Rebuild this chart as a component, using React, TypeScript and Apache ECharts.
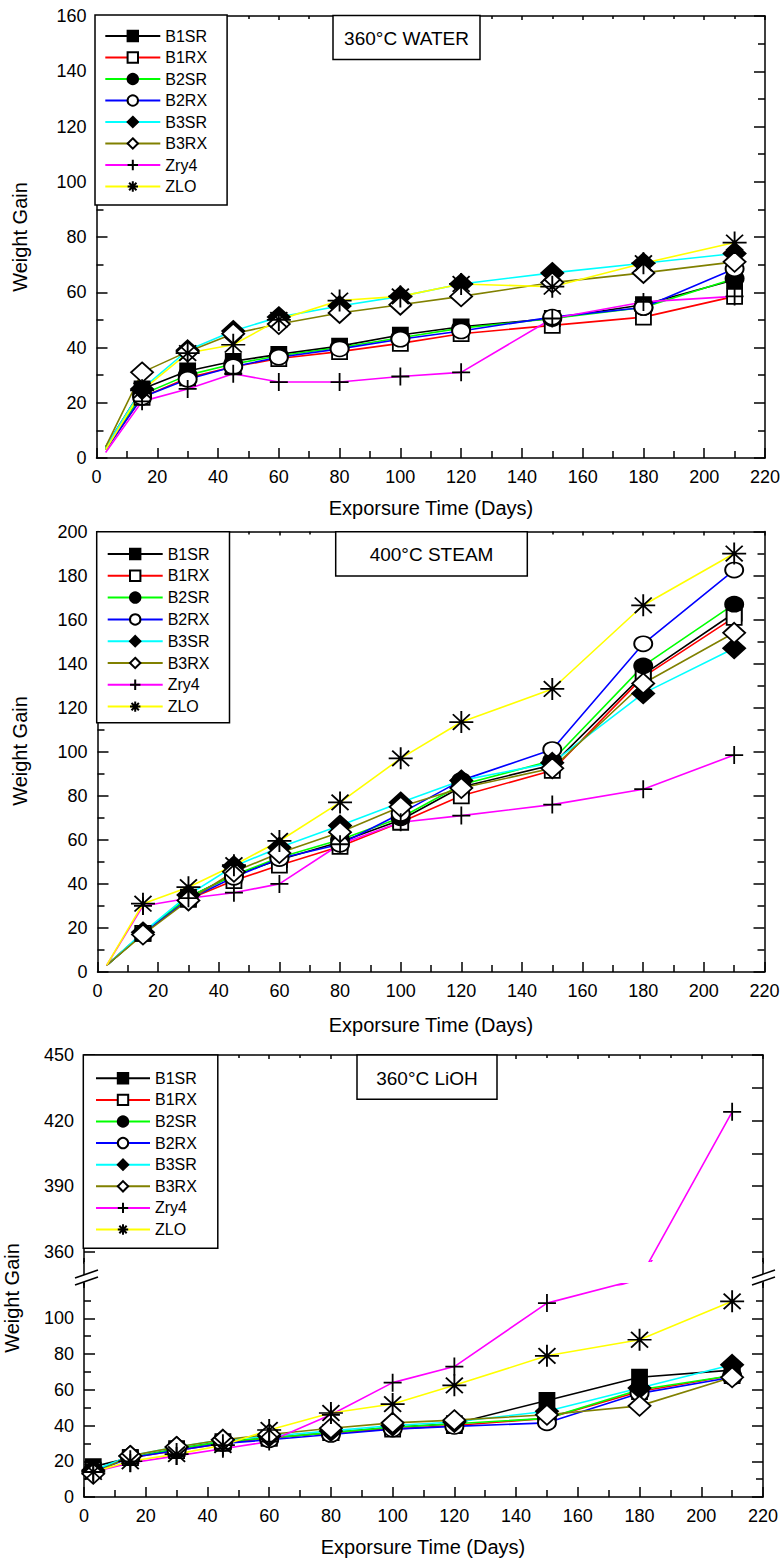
import { useEffect, useRef } from 'react';
import * as echarts from 'echarts';

// ---------- data ----------
const days = [3, 15, 30, 45, 60, 80, 100, 120, 150, 180, 210];
const seriesNames = ['B1SR', 'B1RX', 'B2SR', 'B2RX', 'B3SR', 'B3RX', 'Zry4', 'ZLO'];

// 360°C water
const waterB1SR = [4, 25, 31.5, 35, 37.5, 40.5, 44.5, 47.5, 50.5, 55.5, 64.5];
const waterB1RX = [3, 22, 29, 33, 36, 38.5, 41.5, 45, 48, 51, 58.5];
const waterB2SR = [3.5, 23, 30, 34, 37, 40, 43.5, 47, 50.5, 54.5, 65];
const waterB2RX = [3, 22, 28.5, 33, 36.5, 39.5, 43, 46, 51, 54.5, 68.5];
const waterB3SR = [4, 25, 39, 46, 51, 55, 58.5, 63, 67, 70.5, 74];
const waterB3RX = [4, 31, 38.5, 45, 48.5, 52.5, 55.5, 58.5, 63.5, 67, 71];
const waterZry4 = [2, 20.5, 25, 30.5, 27.5, 27.5, 29.5, 31, 50.5, 56.5, 58.5];
const waterZLO = [3, 24.5, 38, 41, 50, 57, 58.5, 63, 62, 70.5, 78];

// 400°C steam
const steamB1SR = [3, 17.5, 34, 44, 51, 59, 69, 84, 94, 135, 163];
const steamB1RX = [3, 17.5, 33, 41.5, 48.5, 57, 68, 80, 91.5, 134, 161];
const steamB2SR = [3, 17.5, 34, 44, 52, 60, 70, 85, 96, 139, 167];
const steamB2RX = [3, 17.5, 33, 43, 51.5, 58, 72, 87, 101, 149, 182.5];
const steamB3SR = [3, 18, 35, 48, 56.5, 66.5, 77, 87, 95, 126.5, 147];
const steamB3RX = [3, 17, 32.5, 45.5, 54, 63.5, 75, 83.5, 92.5, 131, 154];
const steamZry4 = [3, 30, 33.5, 36, 40, 58, 68, 71, 76, 83, 98.5];
const steamZLO = [3, 31, 38.5, 48.5, 59.5, 77, 97, 113.5, 128.5, 166.5, 190];

// 360°C LiOH
const liohB1SR = [17, 22, 27, 31, 33, 36, 39, 41, 54, 67, 71];
const liohB1RX = [15, 22, 26, 30, 33, 36, 38, 40, 44, 59, 68];
const liohB2SR = [15, 22, 27, 31, 33, 36, 39, 41, 44, 60, 68];
const liohB2RX = [14, 22, 26, 30, 32, 35, 38, 39.5, 41.5, 58, 67];
const liohB3SR = [15, 23, 28, 32, 34, 37, 40, 42, 48, 61, 74];
const liohB3RX = [13, 23, 28, 32, 35, 38.5, 41.5, 43, 46, 51, 67];
const liohZry4 = [14, 19, 23, 27, 31, 46, 64, 73, 108.5, 162, 424];
const liohZLO = [14, 20, 24, 29, 37.5, 47, 52, 62.5, 79, 88, 109.5];

// axis ticks / labels
const liohLowerLabels = [0, 20, 40, 60, 80, 100];
const liohLowerMinor = [10, 30, 50, 70, 90, 110];
const liohUpperLabels = [360, 390, 420, 450];
const liohUpperTicks = [360, 375, 390, 405, 420, 435, 450];
const liohBreakStart = 120;
const liohBreakEnd = 355;

// ---------- styling ----------
const FONT = '"Liberation Sans", Arial, Helvetica, sans-serif';
const lineColors = ['#000000', '#ff0000', '#00ff00', '#0000ff', '#00ffff', '#808000', '#ff00ff', '#ffff00'];
const PLUS = 'path://M10,0L10,20M0,10L20,10';
const STAR = 'path://M10,0L10,20M0,10L20,10M2.93,2.93L17.07,17.07M17.07,2.93L2.93,17.07';
const markerShapes = ['rect', 'rect', 'circle', 'circle', 'diamond', 'diamond', PLUS, STAR];
const markerFills = ['#000', '#fff', '#000', '#fff', '#000', '#fff', '#000', '#000'];
const markerSizes: any[] = [[15, 15], [15, 15], [18, 15], [18, 15], [22, 20], [22, 20], [18, 18], [24, 22]];
const tickLine = { color: '#000', width: 1.5 };

function buildSeries(values: number[][], xAxisIndex: number, yAxisIndex: number, hideFirst: boolean, only?: number[], hidden?: number[][]) {
  const out: any[] = [];
  values.forEach((vals, si) => {
    if (only && only.indexOf(si) < 0) return;
    out.push({
      type: 'line',
      name: seriesNames[si],
      xAxisIndex,
      yAxisIndex,
      data: days.map((d, i) => {
        const hide = (hideFirst && i === 0) || (hidden && hidden.some((h) => h[0] === si && h[1] === i));
        return hide ? { value: [d, vals[i]], symbol: 'none' } : [d, vals[i]];
      }),
      symbol: markerShapes[si],
      symbolSize: markerSizes[si],
      showAllSymbol: true,
      lineStyle: { color: lineColors[si], width: 1.6 },
      itemStyle: { color: markerFills[si], borderColor: '#000', borderWidth: 1.8 },
      emphasis: { disabled: true },
      z: 2,
    });
  });
  return out;
}

const axisBase: any = {
  type: 'value',
  axisLine: { show: true, onZero: false, lineStyle: { color: '#000', width: 1.5 } },
  splitLine: { show: false },
  axisLabel: { color: '#000', fontSize: 18, fontFamily: FONT, margin: 10 },
};

function bottomX(gridIndex: number) {
  return {
    ...axisBase, gridIndex, position: 'bottom', min: 0, max: 220, interval: 20,
    axisTick: { show: true, inside: true, length: 10, lineStyle: tickLine },
    minorTick: { show: true, splitNumber: 2, length: 7, lineStyle: tickLine },
  };
}
function topX(gridIndex: number) {
  return {
    ...axisBase, gridIndex, position: 'top', min: 0, max: 220, interval: 20,
    axisLabel: { show: false },
    axisTick: { show: true, inside: true, length: 4, lineStyle: tickLine },
    minorTick: { show: true, splitNumber: 2, length: 3, lineStyle: tickLine },
  };
}
function sideY(gridIndex: number, position: string, max: number, showLabel: boolean) {
  return {
    ...axisBase, gridIndex, position, min: 0, max, interval: 20,
    axisLabel: showLabel ? axisBase.axisLabel : { show: false },
    axisTick: { show: true, inside: true, length: 11, lineStyle: tickLine },
    minorTick: { show: true, splitNumber: 2, length: 7, lineStyle: tickLine },
  };
}
// gap is given in value units: 20 px on each of the two segments
function breakCfg(gapUnits: number) {
  return {
    breaks: [{ start: liohBreakStart, end: liohBreakEnd, gap: gapUnits }],
    breakArea: {
      show: true,
      itemStyle: { color: '#ffffff', borderColor: '#ffffff', borderWidth: 0, opacity: 1 },
      zigzagAmplitude: 0,
      expandOnClick: false,
    },
  };
}
const LOWER_GAP = 20 / 1.787;
const UPPER_GAP = 20 / 2.1848;
function liohY(gridIndex: number, position: string, min: number, max: number, gap: number, ticks: number[], labels: number[] | null, tickLen: number, showLine: boolean) {
  return {
    ...axisBase, ...breakCfg(gap), gridIndex, position, min, max,
    axisLine: showLine ? axisBase.axisLine : { show: false },
    axisLabel: labels ? { ...axisBase.axisLabel, customValues: labels } : { show: false },
    axisTick: { show: true, inside: true, length: tickLen, lineStyle: tickLine, customValues: ticks },
  };
}

function legendAt(left: number, top: number, padding: number[], itemWidth: number, itemGap: number) {
  return {
    data: seriesNames, orient: 'vertical', left, top, padding, itemWidth, itemHeight: 13, itemGap,
    borderColor: '#000', borderWidth: 1.5, borderRadius: 0, backgroundColor: '#fff',
    textStyle: { fontSize: 16, color: '#000', fontFamily: FONT },
    selectedMode: false, z: 10,
  };
}

function titleBox(x: number, y: number, w: number, h: number, text: string) {
  return [
    { type: 'rect', z: 100, shape: { x, y, width: w, height: h }, style: { fill: '#fff', stroke: '#000', lineWidth: 1.5 } },
    { type: 'text', z: 101, x: x + w / 2, y: y + h / 2 + 1, style: { text, fontSize: 19, fontFamily: FONT, fill: '#000', align: 'center', verticalAlign: 'middle' } },
  ];
}
function hText(x: number, y: number, text: string) {
  return { type: 'text', z: 100, x, y, style: { text, fontSize: 20, fontFamily: FONT, fill: '#000', align: 'center', verticalAlign: 'middle' } };
}
function vText(x: number, y: number, text: string) {
  return { type: 'text', z: 100, x, y, rotation: Math.PI / 2, style: { text, fontSize: 20, fontFamily: FONT, fill: '#000', align: 'center', verticalAlign: 'middle' } };
}
function axisJoin(x: number) {
  return { type: 'line', z: 110, shape: { x1: x, y1: 1258, x2: x, y2: 1288 }, style: { stroke: '#000', lineWidth: 1.5 } };
}
function breakMark(x: number, y: number) {
  return [
    { type: 'polygon', z: 120, shape: { points: [[x - 10, y + 7], [x + 13, y - 1], [x + 13, y - 8], [x - 10, y]] }, style: { fill: '#fff', stroke: 'none' } },
    { type: 'line', z: 121, shape: { x1: x - 10, y1: y + 7, x2: x + 13, y2: y - 1 }, style: { stroke: '#000', lineWidth: 1.6 } },
    { type: 'line', z: 121, shape: { x1: x - 10, y1: y, x2: x + 13, y2: y - 8 }, style: { stroke: '#000', lineWidth: 1.6 } },
  ];
}

const waterSeries = [waterB1SR, waterB1RX, waterB2SR, waterB2RX, waterB3SR, waterB3RX, waterZry4, waterZLO];
const steamSeries = [steamB1SR, steamB1RX, steamB2SR, steamB2RX, steamB3SR, steamB3RX, steamZry4, steamZLO];
const liohSeries = [liohB1SR, liohB1RX, liohB2SR, liohB2RX, liohB3SR, liohB3RX, liohZry4, liohZLO];

const option: any = {
  animation: false,
  textStyle: { fontFamily: FONT },
  grid: [
    { left: 96.5, top: 16, width: 669, height: 442 },
    { left: 97.5, top: 531.5, width: 667, height: 440.5 },
    { left: 84, top: 1260.77, width: 679, height: 236.23 },
    { left: 84, top: 1055, width: 679, height: 229.74 },
  ],
  xAxis: [
    bottomX(0), topX(0),
    bottomX(1), topX(1),
    bottomX(2), topX(3),
  ],
  yAxis: [
    sideY(0, 'left', 160, true), sideY(0, 'right', 160, false),
    sideY(1, 'left', 200, true), sideY(1, 'right', 200, false),
    liohY(2, 'left', 0, 356, LOWER_GAP, liohLowerLabels, liohLowerLabels, 11, true),
    liohY(2, 'right', 0, 356, LOWER_GAP, liohLowerLabels, null, 11, true),
    liohY(3, 'left', 119, 450, UPPER_GAP, liohUpperTicks, liohUpperLabels, 11, true),
    liohY(3, 'right', 119, 450, UPPER_GAP, liohUpperTicks, null, 11, true),
    liohY(2, 'left', 0, 356, LOWER_GAP, liohLowerMinor, null, 7, false),
    liohY(2, 'right', 0, 356, LOWER_GAP, liohLowerMinor, null, 7, false),
  ],
  legend: [
    legendAt(95, 15, [13, 20, 10.5, 9.3], 55, 5.5),
    legendAt(96.7, 531.7, [14.3, 20, 8.1, 10], 55, 5.8),
    legendAt(83.3, 1055, [15.3, 21, 10.8, 11.7], 54, 5.6),
  ],
  series: [
    ...buildSeries(waterSeries, 0, 0, true),
    ...buildSeries(steamSeries, 2, 2, true),
    ...buildSeries(liohSeries, 4, 4, false, undefined, [[6, 9]]),
    ...buildSeries(liohSeries, 5, 6, false, [6], [[6, 9]]),
  ],
  graphic: [
    ...titleBox(333, 15.5, 147, 44, '360°C WATER'),
    ...titleBox(335.7, 531.7, 191.6, 44.3, '400°C STEAM'),
    ...titleBox(357, 1055, 140, 44.3, '360°C LiOH'),
    hText(431, 508, 'Exporsure Time (Days)'),
    hText(431, 1025, 'Exporsure Time (Days)'),
    hText(423, 1547, 'Exporsure Time (Days)'),
    vText(20, 237, 'Weight Gain'),
    vText(20, 751, 'Weight Gain'),
    vText(12, 1298, 'Weight Gain'),
    axisJoin(84),
    axisJoin(763),
    ...breakMark(85, 1278),
    ...breakMark(762, 1278),
  ],
};

export default function App() {
  const ref = useRef<HTMLDivElement>(null);
  useEffect(() => {
    if (!ref.current) return;
    const chart = echarts.init(ref.current, null, { renderer: 'svg' });
    chart.setOption(option);
    return () => chart.dispose();
  }, []);
  return <div ref={ref} style={{ position: 'absolute', left: 0, top: 0, width: 783, height: 1567 }} />;
}
